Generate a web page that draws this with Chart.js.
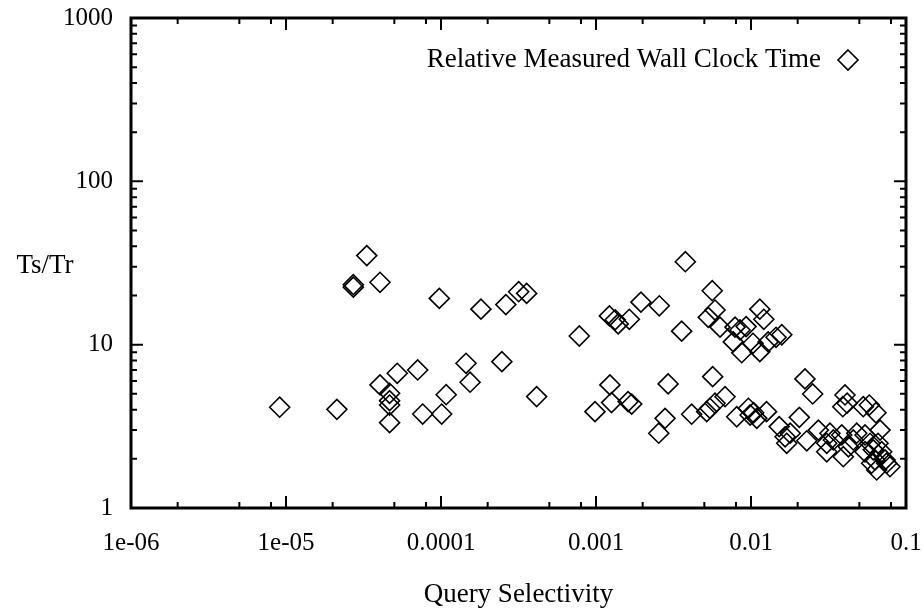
<!DOCTYPE html>
<html>
<head>
<meta charset="utf-8">
<script src="https://cdn.jsdelivr.net/npm/chart.js@4"></script>
<style>
  html, body { margin: 0; padding: 0; background: #fff; }
  #wrap { width: 924px; height: 611px; }
</style>
</head>
<body>
<div id="wrap"><canvas id="grafica" width="924" height="611"></canvas></div>
<script>
// Query selectivity (x) and relative wall clock time Ts/Tr (y)
const selectivity = [
  9.1e-6, 2.13e-5, 3.32e-5, 2.72e-5, 2.72e-5, 4.04e-5, 9.75e-5, 1.81e-4, 2.62e-4, 3.17e-4,
  3.57e-4, 7.8e-4, 4.04e-5, 5.22e-5, 7.07e-5, 1.45e-4, 2.47e-4, 1.54e-4, 1.08e-4, 7.62e-5,
  1.01e-4, 4.14e-4, 4.66e-5, 4.66e-5, 4.66e-5, 4.66e-5,
  1.22e-3, 1.33e-3, 1.39e-3, 1.64e-3, 1.95e-3, 2.56e-3, 3.57e-3, 3.77e-3, 5.62e-3, 5.86e-3,
  5.3e-3, 6.31e-3, 7.89e-3, 8.49e-3, 9.3e-3, 7.69e-3, 8.71e-3, 1.03e-2, 1.14e-2, 1.14e-2,
  1.21e-2, 1.29e-2, 1.45e-2, 1.58e-2,
  1.23e-3, 9.85e-4, 1.26e-3, 1.61e-3, 1.70e-3, 2.54e-3, 2.79e-3, 2.92e-3, 4.14e-3, 5.18e-3,
  5.43e-3, 5.66e-3, 5.86e-3, 6.8e-3, 8.09e-3, 9.62e-3, 9.87e-3, 1.09e-2, 1.04e-2, 1.26e-2,
  1.52e-2, 1.66e-2, 1.7e-2, 1.79e-2, 2.05e-2, 2.23e-2, 2.5e-2, 2.29e-2, 2.72e-2, 3.08e-2,
  3.08e-2, 3.23e-2, 3.4e-2, 3.85e-2, 3.94e-2, 4.04e-2, 3.91e-2, 4.17e-2, 4.25e-2, 4.57e-2,
  4.81e-2, 5.3e-2, 5.8e-2, 6.4e-2, 6.8e-2, 5.44e-2, 5.86e-2, 6.15e-2, 5.44e-2, 6.3e-2,
  6.47e-2, 6.97e-2, 7.33e-2, 7.88e-2, 7.5e-2, 6.6e-2, 6.0e-2
];
const ratio = [
  4.14, 4.02, 35.1, 23.3, 22.5, 24.1, 19.2, 16.5, 17.6, 21.1,
  20.6, 11.3, 5.67, 6.68, 7.0, 7.69, 7.87, 5.89, 4.94, 3.76,
  3.76, 4.81, 5.04, 4.54, 4.27, 3.33,
  15.0, 14.2, 13.4, 14.3, 18.2, 17.3, 12.1, 32.2, 21.4, 16.3,
  14.7, 12.8, 12.8, 12.3, 12.9, 10.4, 8.93, 10.2, 9.06, 16.5,
  14.3, 10.4, 11.1, 11.5,
  5.67, 3.89, 4.42, 4.48, 4.33, 2.87, 3.54, 5.75, 3.75, 3.89,
  4.08, 6.37, 4.38, 4.8, 3.62, 4.08, 3.71, 3.54, 3.83, 3.89,
  3.15, 2.73, 2.49, 2.87, 3.59, 6.17, 4.99, 2.58, 3.0, 2.49,
  2.21, 2.87, 2.61, 2.80, 2.06, 4.92, 4.17, 4.38, 2.37, 2.61,
  2.87, 4.17, 4.27, 3.83, 3.0, 2.80, 2.49, 2.27, 2.21, 1.97,
  1.71, 2.21, 1.97, 1.79, 1.88, 2.49, 1.88
];

const xTickValues = [1e-6, 1e-5, 1e-4, 1e-3, 1e-2, 1e-1];
const xTickLabels = ["1e-06", "1e-05", "0.0001", "0.001", "0.01", "0.1"];
const yTickValues = [1, 10, 100, 1000];
const yTickLabels = ["1", "10", "100", "1000"];

const serieNombre = "Relative Measured Wall Clock Time";
const ejeX = "Query Selectivity";
const ejeY = "Ts/Tr";

const fuente = "'Liberation Serif', 'DejaVu Serif', serif";
const tamFuente = 25;
const tamTexto = 27;

const puntos = selectivity.map((v, i) => ({ x: v, y: ratio[i] }));

// ticks, frame, titles and key drawn gnuplot style
const marco = {
  id: "marco",
  afterDraw(chart) {
    const { ctx, chartArea: a, scales } = chart;
    const sx = scales.x, sy = scales.y;
    ctx.save();
    ctx.strokeStyle = "#000";
    ctx.lineWidth = 2;
    ctx.beginPath();
    // x ticks (inside, top and bottom)
    for (let d = -6; d <= -1; d++) {
      [1, 2, 5, 8].forEach(m => {
        const v = m * Math.pow(10, d);
        if (v > 0.1 * 1.0001) return;
        const px = sx.getPixelForValue(v);
        const len = m === 1 ? 12 : 6;
        ctx.moveTo(px, a.bottom); ctx.lineTo(px, a.bottom - len);
        ctx.moveTo(px, a.top); ctx.lineTo(px, a.top + len);
      });
    }
    // y ticks (inside, left and right)
    for (let d = 0; d <= 3; d++) {
      for (let m = 1; m <= 9; m++) {
        const v = m * Math.pow(10, d);
        if (v > 1000 * 1.0001) break;
        const py = sy.getPixelForValue(v);
        const len = m === 1 ? 12 : 6;
        ctx.moveTo(a.left, py); ctx.lineTo(a.left + len, py);
        ctx.moveTo(a.right, py); ctx.lineTo(a.right - len, py);
      }
    }
    ctx.stroke();
    ctx.lineWidth = 3;
    ctx.strokeRect(a.left, a.top, a.right - a.left, a.bottom - a.top);

    // titulos
    ctx.fillStyle = "#000";
    ctx.font = tamTexto + "px " + fuente;
    ctx.textBaseline = "middle";
    ctx.textAlign = "center";
    ctx.fillText(ejeX, (a.left + a.right) / 2, 595);
    ctx.fillText(ejeY, 45, 266);

    // leyenda
    ctx.textAlign = "right";
    ctx.fillText(serieNombre, 821, 60);
    ctx.lineWidth = 1.6;
    ctx.beginPath();
    ctx.moveTo(848, 50); ctx.lineTo(858, 60); ctx.lineTo(848, 70); ctx.lineTo(838, 60);
    ctx.closePath();
    ctx.stroke();
    ctx.restore();
  }
};

let ctx = document.getElementById("grafica").getContext("2d");
let grafica = new Chart(ctx, {
  type: "scatter",
  data: {
    datasets: [{
      label: serieNombre,
      data: puntos,
      pointStyle: "rectRot",
      pointRadius: 10,
      pointHoverRadius: 10,
      borderColor: "#000",
      backgroundColor: "rgba(0,0,0,0)",
      pointBorderWidth: 1.6
    }]
  },
  options: {
    responsive: false,
    animation: false,
    devicePixelRatio: 1,
    layout: { padding: { left: 0, right: 18, top: 18, bottom: 0 } },
    plugins: { legend: { display: false }, tooltip: { enabled: false } },
    scales: {
      x: {
        type: "logarithmic",
        min: 1e-6,
        max: 0.1,
        afterFit: s => { s.height = 103; s.paddingLeft = 0; s.paddingRight = 0; },
        afterBuildTicks: s => { s.ticks = xTickValues.map(v => ({ value: v })); },
        grid: { display: false, drawTicks: false },
        border: { display: false },
        ticks: {
          color: "#000",
          font: { family: fuente, size: tamFuente },
          padding: 20,
          maxRotation: 0,
          autoSkip: false,
          callback: (v) => {
            const i = xTickValues.findIndex(t => Math.abs(t - v) / t < 1e-6);
            return i >= 0 ? xTickLabels[i] : "";
          }
        }
      },
      y: {
        type: "logarithmic",
        min: 1,
        max: 1000,
        afterFit: s => { s.width = 131; s.paddingTop = 0; s.paddingBottom = 0; },
        afterBuildTicks: s => { s.ticks = yTickValues.map(v => ({ value: v })); },
        grid: { display: false, drawTicks: false },
        border: { display: false },
        ticks: {
          color: "#000",
          font: { family: fuente, size: tamFuente },
          padding: 18,
          autoSkip: false,
          callback: (v) => {
            const i = yTickValues.findIndex(t => Math.abs(t - v) / t < 1e-6);
            return i >= 0 ? yTickLabels[i] : "";
          }
        }
      }
    }
  },
  plugins: [marco]
});
</script>
</body>
</html>
